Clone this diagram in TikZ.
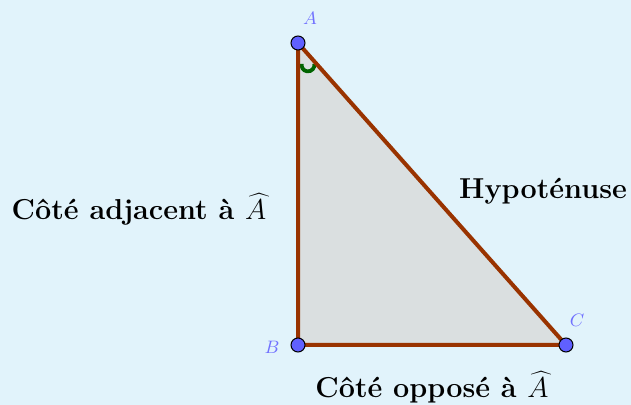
\documentclass[tikz,border=0pt]{standalone}
\usepackage{fontspec}
\begin{document}
\begin{tikzpicture}[x=0.5pt,y=-0.5pt,
  edge/.style={draw=edgecol,line width=2pt,line cap=round,line join=round},
  pt/.style={circle,draw=black,fill=ptcol,line width=0.5pt,inner sep=0pt,minimum size=7pt},
  ptlab/.style={text=labcol,font=\small},
  side/.style={font=\Large\bfseries,text=black}]
\definecolor{bgcol}{HTML}{E1F3FB}
\definecolor{edgecol}{HTML}{993300}
\definecolor{ptcol}{HTML}{6060FF}
\definecolor{labcol}{HTML}{7070FF}
\definecolor{fillcol}{HTML}{DADFE0}
\definecolor{angcol}{HTML}{006400}
\fill[bgcol] (0,0) rectangle (631,405);
\useasboundingbox (0,0) rectangle (631,405);
\coordinate (A) at (298,43);
\coordinate (B) at (298,345);
\coordinate (C) at (566,345);
\fill[fillcol] (A) -- (B) -- (C) -- cycle;
\draw[angcol,line width=1.9pt] (308,65) ++(170:3.2pt) arc[start angle=170,end angle=370,radius=3.2pt];
\draw[edge] (A) -- (B) -- (C) -- cycle;
\node[pt] (pA) at (A) {};
\node[pt] (pB) at (B) {};
\node[pt] (pC) at (C) {};
\node[ptlab] (lA) at (310,18) {$A$};
\node[ptlab] (lB) at (272,347) {$B$};
\node[ptlab] (lC) at (577,320) {$C$};
\node[side] (hyp) at (543,191) {Hypoténuse};
\node[side] (adj) at (139,209) {Côté adjacent à $\widehat{A}$};
\node[side] (opp) at (432,387) {Côté opposé à $\widehat{A}$};
\end{tikzpicture}
\end{document}
